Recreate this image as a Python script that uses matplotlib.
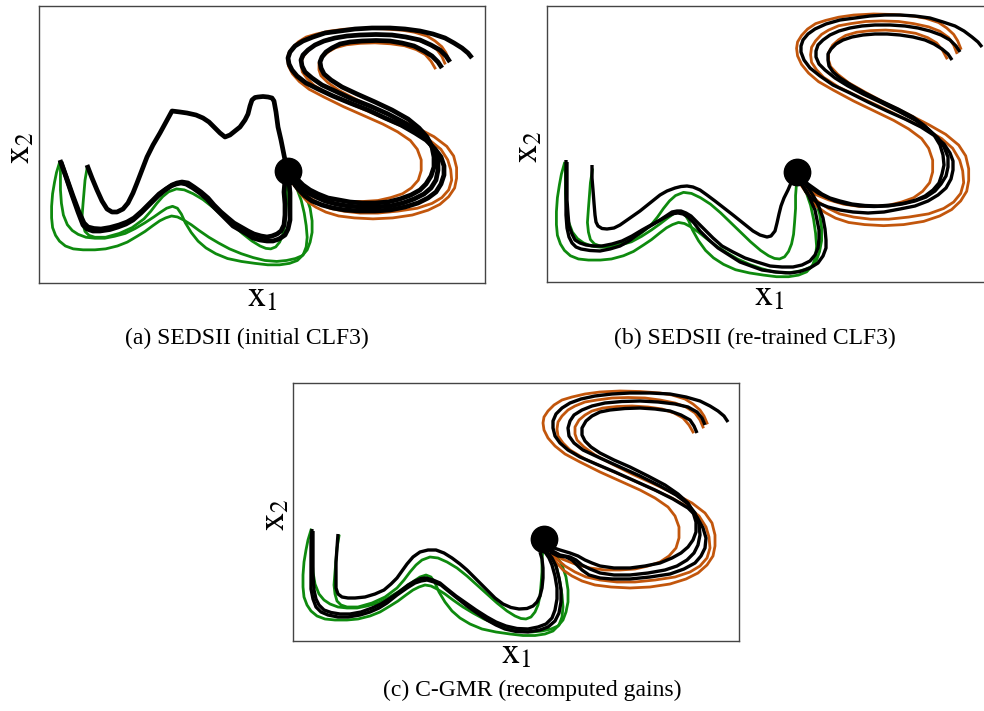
import numpy as np
import matplotlib.pyplot as plt

plt.rcParams['font.family'] = 'Liberation Serif'
plt.rcParams['mathtext.fontset'] = 'stix'

# all trajectories as (x, y) picture pixels, y pointing down,
# and mapped to x1 / x2 with the box of the panel they were read from
BOX_A = (39.0, 5.7, 446.0, 277.6)
BOX_B = (546.7, 5.7, 446.0, 276.6)
BOX_C = (293.3, 383.3, 445.7, 257.4)

# panel (a) shows a slightly wider x2 range than (b) and (c)
LIMS_A = ((-0.007, 1.011), (-0.054, 1.061))
LIMS_BC = ((0.0, 1.0), (0.0, 1.0))

# demonstrations (same in every panel)
green_up = [(339, 536), (337, 548), (336, 560), (335, 572), (334, 585), (335, 594), (337, 601),
            (341, 605), (347, 607), (358, 607), (372, 603), (385, 597), (397, 588), (404, 580),
            (410, 572), (416, 565), (422, 560), (430, 557), (438, 558), (447, 562), (457, 568),
            (467, 576), (477, 585), (487, 594), (497, 603), (507, 611), (515, 616), (521, 618.5),
            (526, 619), (531, 617), (535, 612), (538, 605), (540, 596), (541, 585), (542, 572),
            (542, 560), (543, 548)]
green_mid = [(312, 532), (312, 545), (312, 558), (313, 572), (315, 584), (319, 594), (324, 600),
             (330, 604), (338, 607), (347, 608), (357, 608), (367, 606), (378, 603), (388, 598),
             (398, 592), (407, 586), (414, 581), (420, 577), (426, 575), (431, 577), (435, 583),
             (439, 592), (445, 602), (452, 611), (460, 618), (470, 624), (482, 629), (496, 632),
             (510, 634), (523, 635.5), (535, 635.5), (545, 634), (553, 631), (559, 625),
             (562, 617), (563, 607), (562, 595), (560, 582), (557, 569), (553, 558), (549, 550)]
green_out = [(311, 530), (308, 540), (306, 550), (304, 562), (303, 575), (303, 587), (304, 597),
             (307, 605), (311, 611), (317, 616), (325, 619), (335, 620), (347, 620), (358, 619),
             (370, 616), (380, 612), (390, 606), (398, 601), (406, 595), (413, 590), (419, 587),
             (425, 585), (431, 586), (437, 589), (445, 594), (453, 600), (463, 607), (473, 613),
             (484, 619), (496, 624), (508, 628), (520, 631), (532, 632), (542, 631), (551, 629),
             (558, 626), (563, 620), (566, 612), (568, 602), (568, 590), (566, 577), (562, 565),
             (556, 555), (549, 548)]

orange_a = [(707, 423), (704, 416), (700, 410), (693, 404), (685, 399), (672, 395), (660, 393),
            (640, 391.5), (620, 391), (600, 392), (585, 394), (572, 397), (562, 400), (554, 405),
            (548, 411), (544, 417), (543, 423), (544, 430), (548, 438), (555, 446), (565, 454),
            (580, 462), (600, 472), (620, 481), (640, 490), (655, 498), (668, 507), (675, 516),
            (679, 527), (679, 538), (676, 548), (669, 556), (660, 562), (648, 566), (635, 569),
            (620, 570), (605, 570), (590, 568), (575, 564), (562, 559), (550, 550)]
orange_b = [(703, 427), (700, 420), (695, 413), (686, 407), (675, 403), (660, 400), (645, 398),
            (628, 397.5), (612, 398), (597, 400), (585, 402), (575, 406), (568, 410), (562, 416),
            (558, 422), (557, 429), (558, 436), (563, 443), (570, 450), (585, 459), (605, 468),
            (628, 478), (650, 488), (670, 497), (688, 507), (699, 516), (706, 527), (709, 537),
            (710, 548), (707, 558), (700, 566), (690, 572), (675, 577), (655, 580), (635, 582),
            (617, 582), (600, 580), (586, 577), (575, 572), (565, 566), (558, 560), (549, 550)]
orange_c = [(693, 432), (689, 425), (683, 418), (674, 413), (662, 409), (648, 407), (632, 406),
            (617, 406.5), (603, 408), (592, 411), (585, 415), (579, 420), (575, 427), (575, 434),
            (577, 440), (584, 447), (595, 455), (612, 464), (632, 474), (654, 484), (675, 494),
            (692, 503), (705, 513), (712, 523), (715, 535), (715, 546), (713, 556), (707, 565),
            (698, 573), (686, 579), (670, 584), (650, 587), (630, 588), (611, 587), (595, 585),
            (582, 581), (572, 576), (563, 570), (557, 563), (548, 551)]

target_c = (543.5, 538.5)

# reproductions, panel (a) SEDSII initial CLF3
a_mtn = [(87, 165), (92, 178), (97, 190), (102, 201), (107, 209), (112, 212), (117, 212),
         (123, 209), (128, 203), (133, 193), (137, 183), (142, 170), (147, 157), (153, 145),
         (160, 133), (166, 122), (172, 111), (180, 112), (187, 113), (196, 115), (203, 118),
         (209, 122), (214, 127), (220, 133), (225, 137), (230, 135), (235, 131), (240, 127),
         (245, 120), (248, 114), (250, 106), (252, 100), (255, 97.5), (258, 97), (263, 96.5),
         (268, 97), (272, 98), (274, 101), (276, 112), (278, 127), (281, 140), (283, 150),
         (285, 160), (287, 167)]
a_lo1 = [(60, 160), (66, 177), (72, 195), (78, 212), (83, 225), (87, 229), (93, 231), (100, 231),
         (110, 229.5), (118, 227), (126, 224), (133, 220), (141, 213), (150, 204), (158, 196),
         (165, 190), (171, 186), (176, 184), (181, 183), (186, 184), (193, 188), (200, 193),
         (207, 199), (213, 206), (220, 213), (227, 220), (233, 226), (240, 230), (247, 234),
         (253, 238), (260, 240), (267, 241), (273, 241), (279, 239), (285, 235), (288, 229),
         (290, 220), (290, 207), (290, 193), (289, 182), (288, 173)]
a_lo2 = [(61, 162), (67, 179), (73, 196), (79, 212), (84, 223), (88, 227), (94, 228.5), (101, 229),
         (110, 227.5), (119, 225), (127, 222), (134, 218), (142, 211), (151, 202), (159, 194),
         (166, 189), (172, 185), (177, 183), (182, 182), (188, 183), (194, 187), (201, 192),
         (208, 198), (214, 205), (221, 212), (228, 218), (234, 223), (241, 227), (248, 231),
         (254, 234), (261, 236), (267, 237), (272, 236), (277, 234), (281, 231), (284, 225),
         (285, 215), (285, 204), (284, 192), (285, 180), (287, 172)]
a_s1 = [(472, 58), (468, 53), (462, 48), (454, 43), (445, 38), (433, 34), (420, 31), (405, 29),
        (390, 28), (372, 28), (355, 29), (340, 31), (325, 33), (313, 37), (303, 41), (295, 46),
        (290, 52), (288, 58), (289, 64), (292, 70), (297, 76), (306, 83), (318, 89), (333, 96),
        (350, 103), (368, 110), (385, 118), (401, 125), (415, 133), (426, 140), (435, 149),
        (441, 157), (444, 166), (444, 175), (441, 184), (436, 192), (428, 198), (418, 203),
        (405, 207), (390, 210), (375, 211), (360, 211), (345, 210), (333, 208), (322, 205),
        (312, 201), (305, 196), (299, 190), (295, 185), (290, 175)]
a_s2 = [(450, 62), (446, 56), (440, 50), (431, 45), (420, 40), (406, 37), (392, 35), (376, 34.5),
        (360, 35), (347, 36), (335, 38), (324, 41), (315, 45), (308, 50), (303, 55), (301, 60),
        (302, 66), (305, 72), (312, 78), (322, 85), (335, 91), (352, 99), (370, 106), (388, 114),
        (405, 123), (418, 131), (428, 140), (434, 150), (438, 160), (438, 170), (436, 180),
        (431, 188), (424, 194), (414, 199), (403, 203), (390, 206), (375, 207), (361, 207),
        (348, 206), (336, 204), (325, 201), (316, 197), (308, 193), (302, 188), (297, 182),
        (291, 174)]
a_s3 = [(442, 68), (438, 62), (432, 56), (424, 51), (414, 46), (402, 43), (390, 41), (376, 40.5),
        (362, 41), (350, 42), (340, 44), (332, 48), (326, 52), (322, 57), (320, 62), (321, 68),
        (324, 74), (331, 80), (342, 87), (357, 94), (375, 102), (392, 110), (408, 119), (419, 128),
        (427, 137), (432, 147), (434, 157), (434, 167), (431, 176), (426, 184), (420, 190),
        (411, 195), (400, 199), (388, 202), (375, 203), (362, 203), (350, 202), (339, 200),
        (328, 198), (318, 194), (310, 190), (303, 185), (298, 180), (291, 172)]

# panel (b) SEDSII re-trained CLF3
b_up = [(592, 165), (592, 178), (593, 190), (594, 203), (595, 215), (596, 222), (598, 226),
        (602, 228.5), (607, 229), (614, 228), (620, 225), (630, 218), (640, 211), (650, 203),
        (660, 195), (667, 191), (675, 188), (681, 186.5), (687, 186), (693, 187), (700, 190),
        (707, 195), (715, 201), (724, 208), (733, 215), (743, 223), (753, 231), (760, 235),
        (767, 237), (771, 236), (775, 231), (777, 223), (779, 214), (781, 206), (784, 198),
        (788, 190), (791, 183), (795, 177)]
b_lo1 = [(566, 160), (566, 180), (566, 200), (566, 215), (567, 228), (569, 237), (572, 243),
         (576, 247), (581, 249), (590, 250.5), (600, 251), (610, 249), (620, 246), (629, 241),
         (637, 235), (647, 228), (657, 222), (664, 218), (670, 215), (674, 213.5), (678, 213),
         (683, 214), (688, 217), (694, 223), (700, 231), (709, 240), (718, 248), (729, 255),
         (740, 262), (751, 266), (762, 270), (776, 272), (790, 273), (800, 271.5), (810, 268),
         (818, 263), (823, 256), (826, 248), (826, 240), (825, 229), (823, 218), (819, 207),
         (814, 197), (809, 189), (803, 181)]
b_lo2 = [(567, 162), (567, 181), (567, 200), (568, 214), (569, 226), (572, 234), (575, 240),
         (580, 243), (586, 245), (594, 246), (602, 246), (612, 244), (622, 241), (632, 236),
         (642, 230), (651, 225), (660, 220), (666, 216), (672, 212), (677, 211), (681, 211),
         (686, 213), (691, 216), (697, 222), (704, 229), (713, 238), (722, 246), (733, 252),
         (745, 258), (757, 262), (770, 266), (782, 267), (793, 267), (802, 265), (810, 261),
         (815, 255), (818, 248), (819, 239), (819, 230), (817, 220), (815, 210), (811, 201),
         (807, 192), (803, 186), (800, 180)]
b_s1 = [(982, 47), (978, 42), (972, 37), (964, 31), (955, 26), (943, 22), (930, 18), (915, 16),
        (900, 15), (885, 15), (870, 16), (855, 18), (840, 20), (826, 24), (815, 29), (808, 34),
        (803, 40), (801, 46), (801, 52), (804, 60), (810, 68), (820, 76), (833, 85), (850, 93),
        (868, 102), (887, 111), (905, 119), (921, 127), (935, 136), (944, 144), (950, 153),
        (953, 161), (953, 170), (951, 179), (946, 188), (938, 195), (928, 201), (915, 206),
        (900, 209), (884, 212), (868, 213), (853, 212), (840, 210), (828, 207), (818, 203),
        (811, 198), (806, 192), (802, 185), (799, 178)]
b_s2 = [(960, 52), (956, 46), (950, 40), (941, 35), (930, 31), (918, 28), (905, 26), (890, 25),
        (875, 25), (862, 26), (850, 28), (839, 31), (830, 35), (823, 40), (818, 45), (816, 51),
        (816, 57), (819, 64), (825, 70), (835, 78), (848, 86), (863, 94), (880, 102), (898, 111),
        (915, 120), (928, 129), (938, 138), (944, 147), (948, 157), (948, 167), (946, 176),
        (941, 184), (935, 191), (926, 197), (915, 201), (902, 204), (888, 206), (874, 206.5),
        (860, 206), (847, 204), (835, 201), (826, 197), (818, 193), (811, 188), (806, 183),
        (799, 176)]
b_s3 = [(952, 60), (948, 54), (942, 49), (934, 44), (925, 40), (913, 37), (900, 35), (887, 34),
        (875, 34), (863, 35), (852, 37), (843, 40), (836, 44), (831, 49), (828, 54), (828, 60),
        (829, 66), (833, 72), (840, 78), (851, 85), (865, 93), (881, 101), (898, 109), (913, 117),
        (925, 126), (934, 135), (940, 145), (943, 155), (944, 165), (942, 174), (939, 183),
        (933, 190), (925, 196), (916, 200), (905, 203), (892, 205), (878, 206), (865, 205.5),
        (852, 204), (840, 201), (830, 198), (822, 194), (815, 189), (808, 184), (803, 180),
        (798, 175)]

# panel (c) C-GMR recomputed gains
c_up = [(338, 534), (337, 548), (336, 562), (336, 576), (336, 588), (338, 594), (342, 597),
        (348, 598), (355, 598), (365, 597), (375, 594), (384, 590), (391, 584), (397, 578),
        (402, 571), (407, 564), (413, 557), (420, 552), (428, 550), (436, 550), (444, 553),
        (452, 558), (460, 564), (467, 570), (477, 580), (487, 590), (495, 598), (503, 604),
        (511, 607.5), (519, 609), (527, 608.5), (533, 606), (537, 602), (540, 596), (542, 588),
        (543, 578), (543, 568), (542, 559), (540, 552)]
c_lo1 = [(312, 529), (311, 542), (311, 555), (311, 572), (311, 589), (313, 599), (316, 607),
         (321, 612), (328, 615), (338, 617), (348, 617), (360, 615), (370, 612), (379, 608),
         (387, 603), (397, 595), (407, 588), (415, 583), (421, 581), (427, 580), (434, 582),
         (441, 585), (447, 590), (457, 598), (467, 606), (477, 613), (487, 620), (496, 625),
         (505, 629), (516, 631.5), (528, 632), (540, 630), (548, 627), (555, 621), (559, 613),
         (561, 602), (561, 590), (559, 578), (556, 566), (552, 558), (547, 552)]
c_lo2 = [(313, 531), (313, 545), (313, 558), (313, 574), (314, 590), (316, 599), (319, 605),
         (324, 610), (331, 612.5), (340, 614), (350, 614), (361, 612), (372, 608), (381, 604),
         (389, 599), (399, 592), (408, 585), (415, 581), (421, 578.5), (426, 578), (433, 580),
         (440, 583), (446, 588), (456, 596), (466, 603), (476, 610), (487, 617), (496, 622),
         (506, 626), (517, 628.5), (528, 629), (538, 627), (546, 624), (552, 618), (555, 610),
         (557, 599), (557, 588), (555, 576), (552, 565), (549, 558), (545, 552)]
c_s1 = [(728, 422), (724, 416), (718, 411), (710, 406), (700, 401), (686, 397), (670, 394),
        (650, 393), (630, 393), (612, 394), (595, 396), (581, 399), (570, 403), (562, 408),
        (556, 414), (553, 421), (553, 428), (555, 436), (560, 443), (568, 450), (580, 457),
        (596, 464), (615, 472), (635, 481), (655, 490), (673, 499), (688, 508), (697, 517),
        (703, 528), (706, 538), (705, 548), (701, 556), (695, 563), (684, 569), (670, 574),
        (650, 577), (630, 579), (612, 579), (600, 578), (589, 575), (582, 570), (576, 564),
        (572, 560), (566, 557), (558, 556), (550, 552)]
c_s2 = [(705, 425), (702, 418), (697, 412), (688, 407), (675, 404), (658, 402), (640, 401),
        (622, 401.5), (605, 403), (592, 406), (582, 410), (574, 415), (570, 421), (568, 428),
        (569, 436), (574, 443), (583, 450), (600, 458), (620, 467), (640, 476), (660, 486),
        (676, 495), (688, 504), (695, 513), (699, 524), (700, 535), (698, 545), (694, 553),
        (687, 560), (677, 566), (665, 570), (648, 573), (630, 575), (614, 575), (600, 573),
        (590, 569), (582, 565), (576, 560), (570, 557), (560, 555), (549, 549)]
c_s3 = [(697, 433), (694, 426), (690, 420), (681, 415), (670, 411), (655, 409), (640, 408),
        (625, 408.5), (610, 410), (600, 412), (592, 416), (586, 421), (582, 428), (582, 435),
        (585, 441), (591, 447), (600, 453), (614, 460), (630, 467), (648, 476), (665, 485),
        (678, 494), (688, 503), (693, 512), (696, 522), (696, 532), (693, 540), (688, 547),
        (681, 553), (672, 558), (660, 563), (645, 566), (630, 568), (614, 568), (600, 566),
        (592, 563), (585, 560), (578, 556), (570, 553), (560, 550), (548, 546)]

GREEN = '#0e8a0e'
ORANGE = '#c2560c'


def to_xy(pts, box, lims=LIMS_BC):
    left, top, w, h = box
    (x0, x1), (y0, y1) = lims
    p = np.array(pts, dtype=float)
    fx = (p[:, 0] - left) / w
    fy = (top + h - p[:, 1]) / h
    return x0 + fx * (x1 - x0), y0 + fy * (y1 - y0)


def draw_panel(ax, repro, box, lims, lw):
    # demos share the data frame of panel (c)
    for g in [green_up, green_mid, green_out]:
        x, y = to_xy(g, BOX_C)
        ax.plot(x, y, color=GREEN, lw=2.0, solid_joinstyle='round')
    for o in [orange_a, orange_b, orange_c]:
        x, y = to_xy(o, BOX_C)
        ax.plot(x, y, color=ORANGE, lw=2.0, solid_joinstyle='round')
    for r in repro:
        x, y = to_xy(r, box, lims)
        ax.plot(x, y, color='black', lw=lw, solid_capstyle='butt', solid_joinstyle='round')
    tx, ty = to_xy([target_c], BOX_C)
    ax.plot(tx, ty, 'o', color='black', ms=19, zorder=5)
    ax.set_xlim(lims[0])
    ax.set_ylim(lims[1])
    ax.set_xticks([])
    ax.set_yticks([])
    for s in ax.spines.values():
        s.set_color('#444444')
        s.set_linewidth(1.0)


W, H = 984, 711
fig = plt.figure(figsize=(W / 100, H / 100), dpi=100)


def add_box(box):
    left, top, w, h = box
    return fig.add_axes([left / W, 1 - (top + h) / H, w / W, h / H])


def label(x, y, s, **kw):
    fig.text(x / W, 1 - y / H, s, **kw)


panels = [
    (BOX_A, LIMS_A, [a_mtn, a_lo1, a_lo2, a_s1, a_s2, a_s3], 3.4,
     '(a) SEDSII (initial CLF3)', 247, 344),
    (BOX_B, LIMS_BC, [b_up, b_lo1, b_lo2, b_s1, b_s2, b_s3], 2.4,
     '(b) SEDSII (re-trained CLF3)', 755, 344),
    (BOX_C, LIMS_BC, [c_up, c_lo1, c_lo2, c_s1, c_s2, c_s3], 2.4,
     '(c) C-GMR (recomputed gains)', 532, 696),
]

for box, lims, repro, lw, cap, cx, cy in panels:
    ax = add_box(box)
    draw_panel(ax, repro, box, lims, lw)
    left, top, w, h = box
    label(left + w / 2, top + h + 23, r'$\mathrm{x}_1$', fontsize=26, ha='center', va='baseline')
    label(left - 18, top + h / 2 + 3, r'$\mathrm{x}_2$', fontsize=26, ha='center', va='center',
          rotation=90)
    label(cx, cy, cap, fontsize=17, ha='center', va='baseline')

fig.savefig('out.png', dpi=100)
